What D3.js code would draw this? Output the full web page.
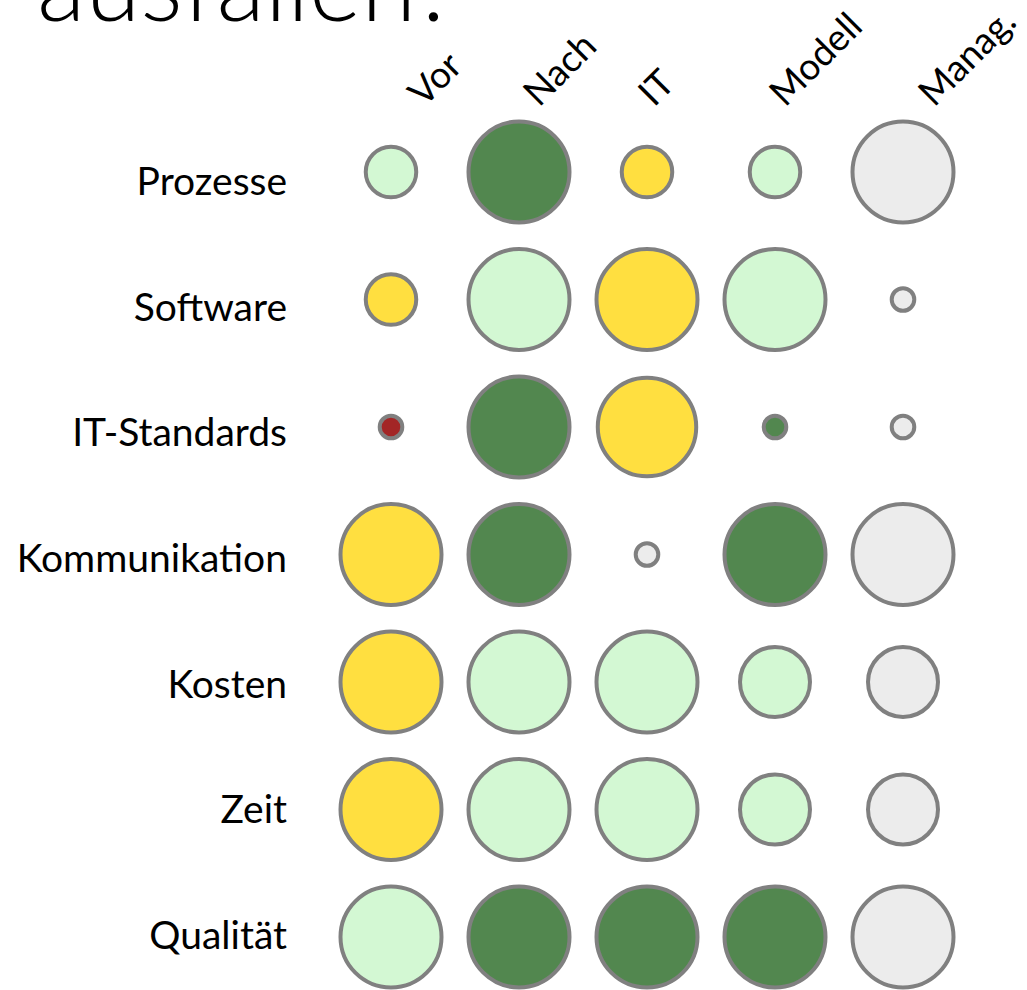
<!DOCTYPE html>
<html>
<head>
<meta charset="utf-8">
<script src="https://cdn.jsdelivr.net/npm/d3@7"></script>
<style>
  html, body { margin: 0; padding: 0; background: #fff; }
  svg text { font-family: Lato, "Open Sans", sans-serif; fill: #000; }
</style>
</head>
<body>
<svg id="chart" width="1027" height="990"></svg>
<script>
var title   = 'ausfallen?';
var columns = ['Vor', 'Nach', 'IT', 'Modell', 'Manag.'];
var rows    = ['Prozesse', 'Software', 'IT-Standards', 'Kommunikation', 'Kosten', 'Zeit', 'Qualität'];

/* bubble size per row, one entry per column */
var sizes = [
    [25, 100, 25, 25, 100],
    [25, 100, 100, 100, 5],
    [5, 100, 95, 5, 5],
    [100, 100, 5, 100, 100],
    [100, 100, 100, 48, 48],
    [100, 100, 100, 48, 48],
    [100, 100, 100, 100, 100]
];

/* rating per row: r = red, y = yellow, l = light green, g = dark green, n = none */
var ratings = [
    ['l', 'g', 'y', 'l', 'n'],
    ['y', 'l', 'y', 'l', 'n'],
    ['r', 'g', 'y', 'g', 'n'],
    ['y', 'g', 'n', 'g', 'n'],
    ['y', 'l', 'l', 'l', 'n'],
    ['y', 'l', 'l', 'l', 'n'],
    ['l', 'g', 'g', 'g', 'n']
];

var ratingKeys   = ['r', 'y', 'l', 'g', 'n'];
var ratingColors = ['#a32626', '#ffdf40', '#d3f8d3', '#52874f', '#ececec'];

/* hand placement of the slanted headers, relative to the column centre */
var headerNudge = [33, 20, 7, 10, 31];

var svg = d3.select('#chart');

var x  = d3.scalePoint().domain(columns).range([391, 903]);
var y  = d3.scalePoint().domain(rows).range([172, 937]);
var yl = d3.scalePoint().domain(rows).range([195, 949]);
var r  = d3.scaleSqrt().domain([0, 100]).range([0, 50.5]);
var color = d3.scaleOrdinal().domain(ratingKeys).range(ratingColors);

svg.append('text')
   .attr('x', 37)
   .attr('y', 21)
   .style('font-size', '100px')
   .style('font-weight', 300)
   .text(title);

svg.selectAll('text.col')
   .data(columns)
   .enter().append('text')
     .attr('class', 'col')
     .attr('transform', function (d, i) {
         return 'translate(' + (x(d) + headerNudge[i]) + ',108) rotate(-45)';
     })
     .style('font-size', '37px')
     .text(function (d) { return d; });

svg.selectAll('text.row')
   .data(rows)
   .enter().append('text')
     .attr('class', 'row')
     .attr('x', 287)
     .attr('y', function (d) { return yl(d); })
     .attr('text-anchor', 'end')
     .style('font-size', '39px')
     .text(function (d) { return d; });

var cells = [];
for (var i = 0; i < rows.length; i++) {
    for (var j = 0; j < columns.length; j++) {
        cells.push({ row: rows[i], col: columns[j], size: sizes[i][j], rating: ratings[i][j] });
    }
}

svg.selectAll('circle')
   .data(cells)
   .enter().append('circle')
     .attr('cx', function (d) { return x(d.col); })
     .attr('cy', function (d) { return y(d.row); })
     .attr('r',  function (d) { return r(d.size); })
     .attr('fill', function (d) { return color(d.rating); })
     .attr('stroke', '#808080')
     .attr('stroke-width', 4);
</script>
</body>
</html>
